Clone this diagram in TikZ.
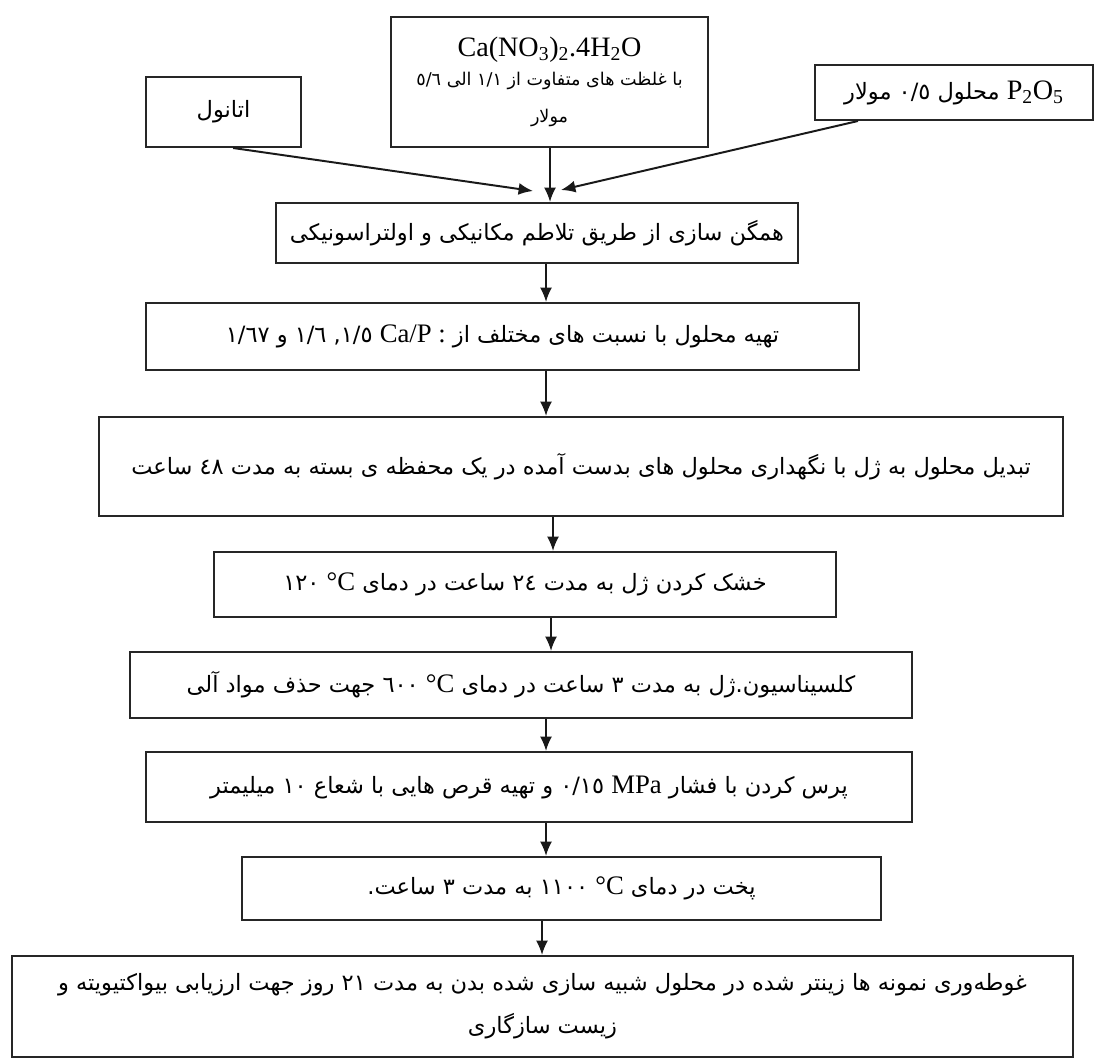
\documentclass[tikz,border=0pt]{standalone}
\usepackage{fontspec}
\setmainfont{Liberation Serif}
\newfontfamily\fafont[Script=Arabic]{DejaVu Sans}
\TeXXeTstate=1
\usetikzlibrary{arrows.meta}
\newcommand{\rtline}[1]{\beginR #1\endR}
\newcommand{\ltrpart}[1]{\beginL{\normalfont #1}\endL}

\begin{document}
\begin{tikzpicture}[x=0.25mm, y=-0.25mm,
    box/.style={draw=black!85, line width=1.4pt, inner sep=0pt, align=center,
      font=\fafont\fontsize{16}{19}\selectfont},
    arr/.style={-{Latex[length=3.6mm, width=3mm]}, line width=1.4pt, draw=black!90}]
    \useasboundingbox (0,0) rectangle (1094,1059);
    % Nodes
    \node[box, minimum width=38.75mm, minimum height=17.5mm] (eth) at (223.5,112) {\rtline{اتانول}};
    \node[box, minimum width=79.25mm, minimum height=32.5mm,
          font=\fafont\fontsize{12.5}{15}\selectfont] (ca) at (549.5,82)
      {{\normalfont\fontsize{20}{22}\selectfont Ca(NO\textsubscript{3})\textsubscript{2}.4H\textsubscript{2}O}\\[2mm]
       \rtline{با غلظت های متفاوت از ١/١ الی ٥/٦}\\[4mm]
       \rtline{مولار}};
    \node[box, minimum width=69.5mm, minimum height=13.75mm] (pho) at (954,92.5)
      {\rtline{\ltrpart{\fontsize{20}{22}\selectfont P\textsubscript{2}O\textsubscript{5}} محلول ٠/٥ مولار}};
    \node[box, minimum width=130.5mm, minimum height=15mm] (mix) at (537,233)
      {\rtline{همگن سازی از طریق تلاطم مکانیکی و اولتراسونیکی}};
    \node[box, minimum width=178.25mm, minimum height=16.75mm] (ratio) at (502.5,336.5)
      {\rtline{تهیه محلول با نسبت های مختلف از \ltrpart{\fontsize{19}{22}\selectfont Ca/P :} ١/٥, ١/٦ و ١/٦٧}};
    \node[box, minimum width=241mm, minimum height=24.75mm] (gel) at (581,466.5)
      {\rtline{تبدیل محلول به ژل با نگهداری محلول های بدست آمده در یک محفظه ی بسته به مدت ٤٨ ساعت}};
    \node[box, minimum width=155.5mm, minimum height=16.25mm] (dry) at (525,584.5)
      {\rtline{خشک کردن ژل به مدت ٢٤ ساعت در دمای \ltrpart{\fontsize{19}{22}\selectfont °C} ١٢٠}};
    \node[box, minimum width=195.5mm, minimum height=16.5mm] (calc) at (521,685)
      {\rtline{کلسیناسیون.ژل به مدت ٣ ساعت در دمای \ltrpart{\fontsize{19}{22}\selectfont °C} ٦٠٠ جهت  حذف مواد آلی}};
    \node[box, minimum width=191.5mm, minimum height=17.5mm] (press) at (529,787)
      {\rtline{پرس کردن با فشار \ltrpart{\fontsize{19}{22}\selectfont MPa} ٠/١٥ و تهیه قرص هایی با شعاع ١٠ میلیمتر}};
    \node[box, minimum width=159.75mm, minimum height=15.75mm] (sint) at (561.5,888.5)
      {\rtline{پخت در دمای \ltrpart{\fontsize{19}{22}\selectfont °C} ١١٠٠ به مدت ٣ ساعت.}};
    \node[box, minimum width=265.25mm, minimum height=25.25mm] (soak) at (542.5,1006.5)
      {\rtline{غوطه‌وری نمونه ها زینتر شده در محلول شبیه سازی شده بدن به مدت ٢١ روز جهت ارزیابی بیواکتیویته و}\\[4mm]
       \rtline{زیست سازگاری}};
    \coordinate (inL) at (533,191);
    \coordinate (inR) at (561,190);

    % Connections
    \draw[arr] ([xshift=2.4mm]eth.south) -- (inL);
    \draw[arr] ([xshift=-24mm]pho.south) -- (inR);
    \foreach \a/\b/\x in {ca/mix/550, mix/ratio/546, ratio/gel/546, gel/dry/553, dry/calc/551,
                          calc/press/546, press/sint/546, sint/soak/542} {
      \coordinate (t) at (\x,0);
      \draw[arr] (\a.south -| t) -- (\b.north -| t);
    }
\end{tikzpicture}
\end{document}
